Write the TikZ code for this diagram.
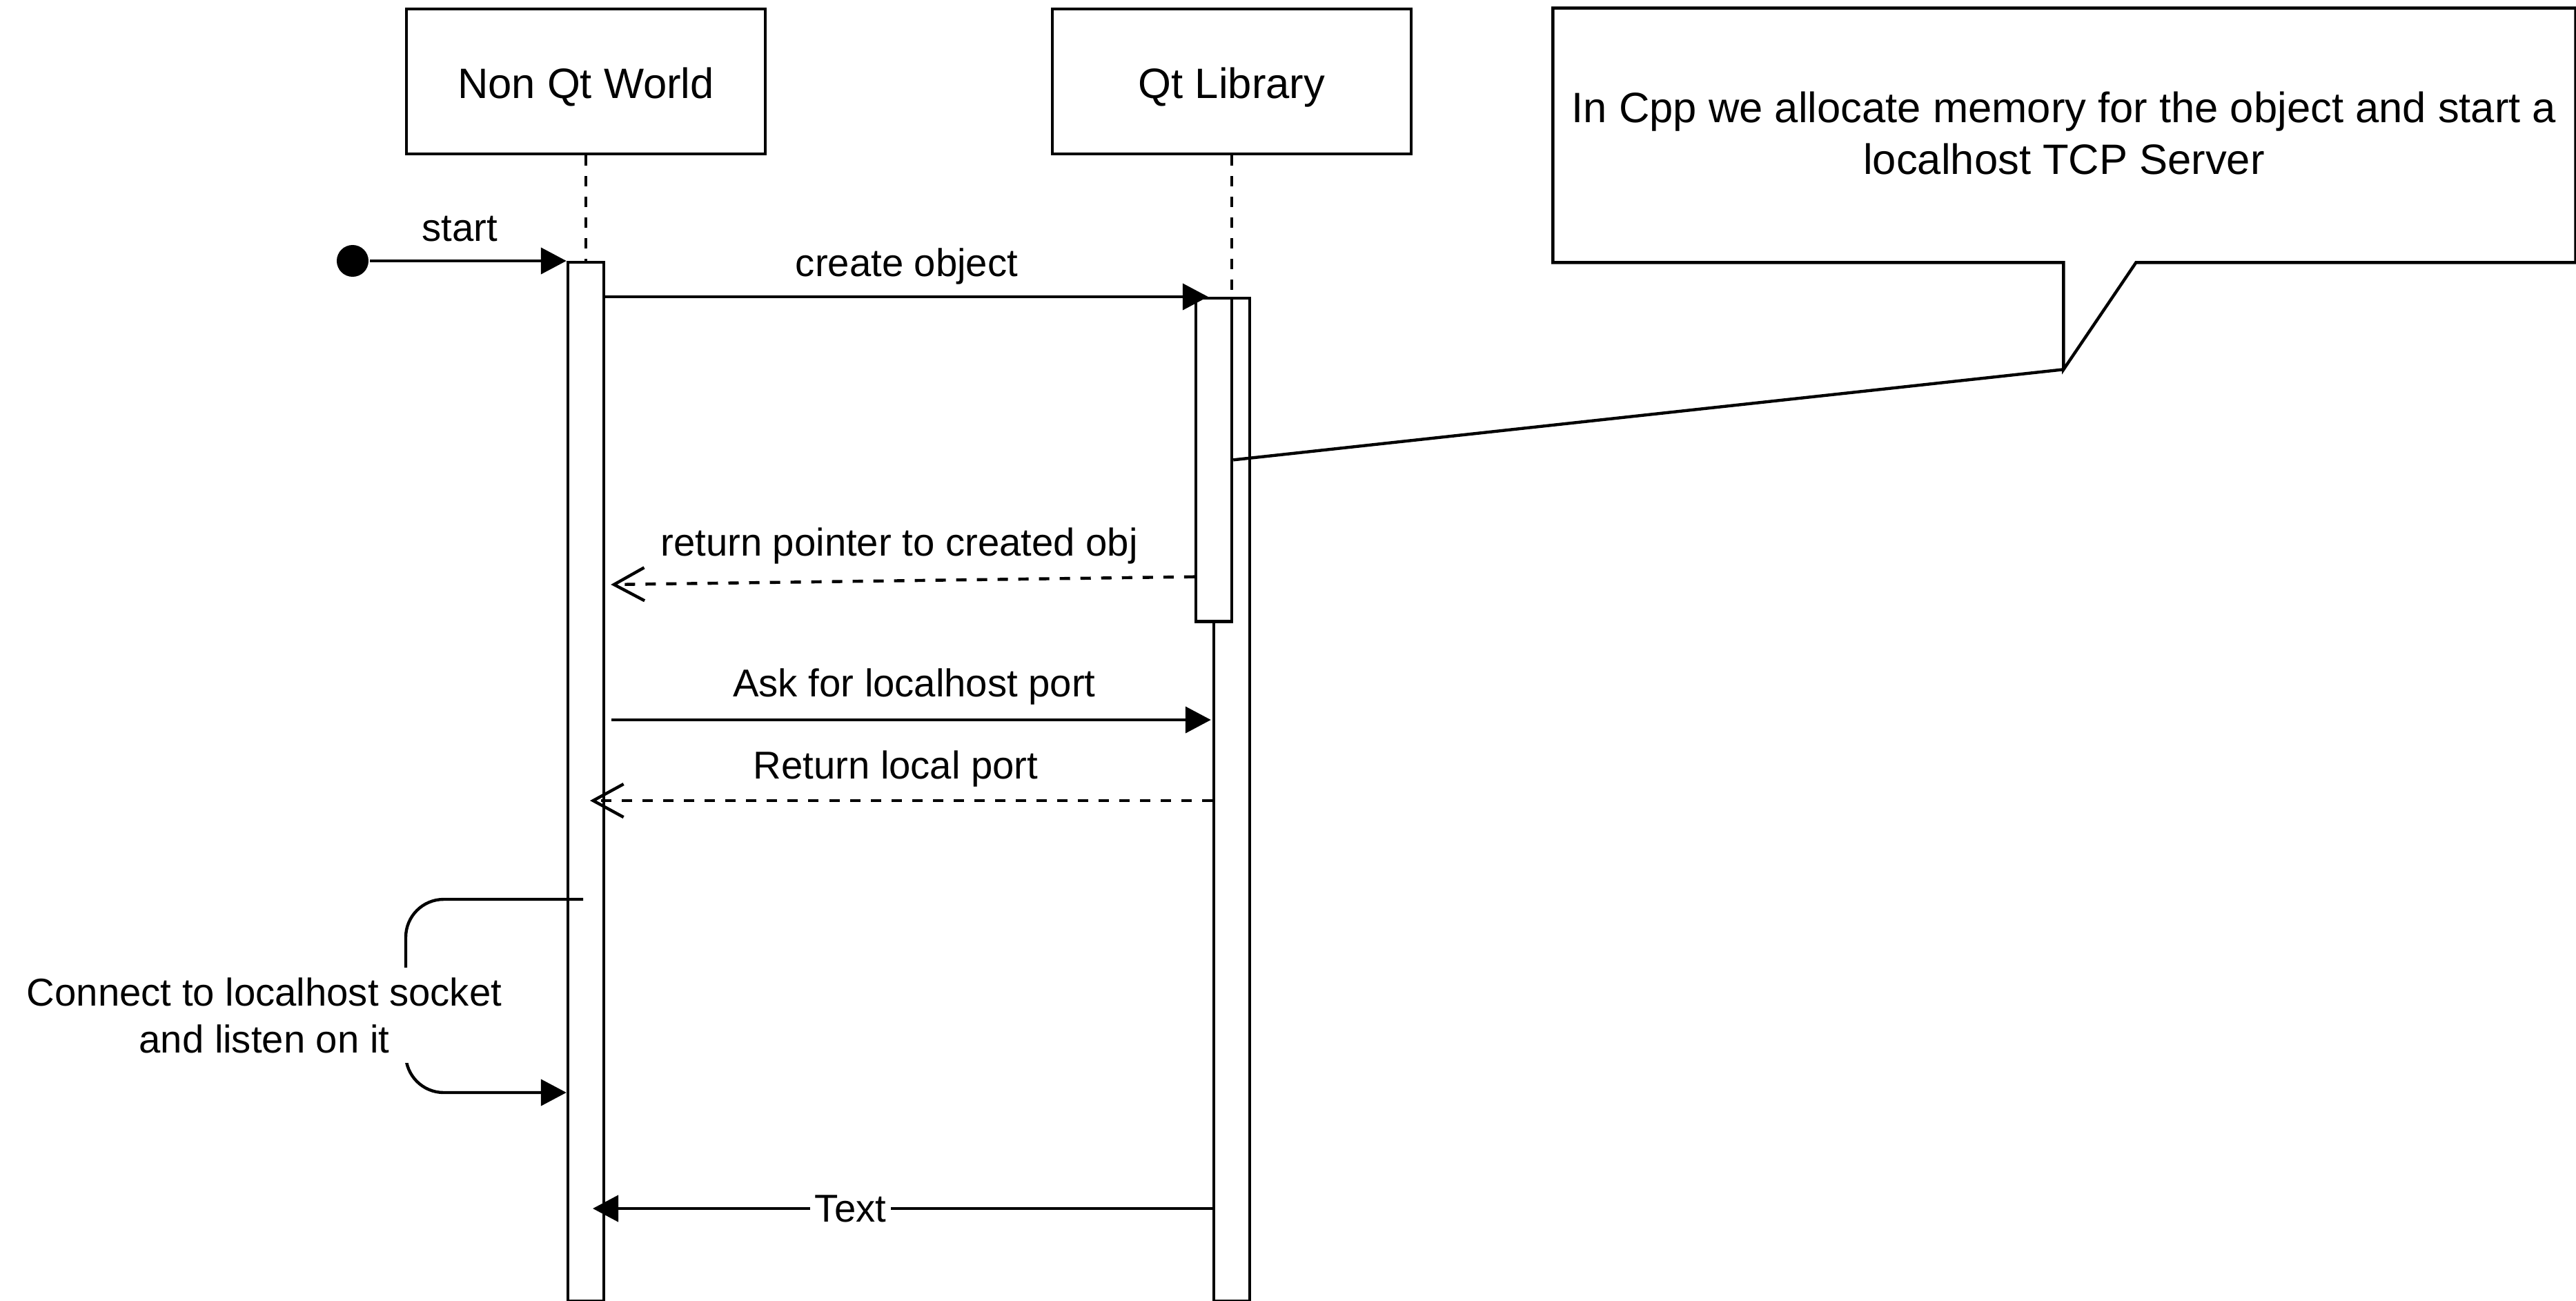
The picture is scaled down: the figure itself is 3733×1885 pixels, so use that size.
\documentclass[tikz,border=0pt]{standalone}
\usepackage{fontspec}
\setmainfont{Liberation Sans}
\usetikzlibrary{arrows.meta,calc}
\newcommand\fbig{\fontsize{17.5pt}{21.5pt}\selectfont}
\newcommand\fsmall{\fontsize{16pt}{19.3pt}\selectfont}
\begin{document}
\begin{tikzpicture}[x=0.01cm,y=-0.01cm, line width=1.25pt,
  box/.style={draw, fill=white, minimum width=5.2cm, minimum height=2.1cm, inner sep=0pt, font=\fbig, text height=0.55cm, text depth=0.07cm},
  bar/.style={draw, fill=white, minimum width=0.52cm, inner sep=0pt, anchor=north},
  life/.style={dash pattern=on 0.15cm off 0.15cm},
  msg/.style={-{Triangle[length=3.7mm,width=3.8mm]}},
  ret/.style={dash pattern=on 0.15cm off 0.15cm, -{Straight Barb[length=4.4mm,width=4.8mm]}},
  lbl/.style={font=\fsmall, inner sep=0pt, anchor=base},
]
\fill[white] (0,0) rectangle (3733,1885);
\useasboundingbox (0,0) rectangle (3733,1885);

% lifeline heads
\node[box] (nq) at (849,118) {Non Qt World};
\node[box] (ql) at (1785,118) {Qt Library};

% activation bars
\node[bar, minimum height=15.04cm] (nqbar) at (849,378) {};
\node[bar, minimum height=14.52cm] (qlong) at (1785,430) {};
\node[bar, minimum height=4.68cm] (qshort) at (1759,430) {};

% dashed lifelines
\draw[life] (nq.south) -- (nqbar.north);
\draw[life] (ql.south) -- (qlong.north);

% start
\node[circle, fill=black, minimum size=0.46cm, inner sep=0pt] (st) at (511,378) {};
\draw[msg] (st) -- (nqbar.north west);
\node[lbl] (lstart) at (666,350) {start};

% create object
\draw[msg] (nqbar.north east |- qshort.north) -- ($(qlong.north west)+(-6,0)$);
\node[lbl] (lcreate) at (1314,400) {create object};

% return pointer
\draw[ret] ($(qshort.south west)+(0,-67)$) -- ($(nqbar.north east)+(8,469)$);
\node[lbl] (lret) at (1303,805) {return pointer to created obj};

% ask for port
\draw[msg] ($(nqbar.north east)+(9,665)$) -- ($(qlong.north west)+(-2,613)$);
\node[lbl] (lask) at (1325,1009) {Ask for localhost port};

% return local port
\draw[ret] ($(qlong.north west)+(0,730)$) -- ($(nqbar.north)+(6,782)$);
\node[lbl] (lrlp) at (1298,1128) {Return local port};

% self loop
\draw[msg, rounded corners=0.55cm] ($(nqbar.north)+(-4,925)$) -- ++(-257,0) -- ++(0,280) -- ($(nqbar.north west)+(0,1205)$);
\node[font=\fsmall, fill=white, align=center, inner sep=4pt] (lconn) at (383,1471) {Connect to localhost socket\\and listen on it};

% Text message
\draw[msg] ($(qlong.north west)+(0,1321)$) -- node[pos=0.584, font=\fsmall, fill=white, inner sep=2pt] (ltext) {Text} ($(nqbar.north)+(10,1373)$);

% callout
\node[minimum width=14.77cm, minimum height=3.64cm, inner sep=0pt] (cbox) at (2991.5,196) {};
\coordinate (ctip) at ($(cbox.south west)+(740,155)$);
\draw[fill=white, line join=miter] (cbox.north west) -- (cbox.north east) -- (cbox.south east) -- ($(cbox.south west)+(845,0)$) -- (ctip) -- ($(cbox.south west)+(740,0)$) -- (cbox.south west) -- cycle;
\node[font=\fbig, align=center, inner sep=0pt] (ctext) at (2991,193) {In Cpp we allocate memory for the object and start a\\localhost TCP Server};
\draw (qshort.east) -- (ctip);
\end{tikzpicture}
\end{document}
